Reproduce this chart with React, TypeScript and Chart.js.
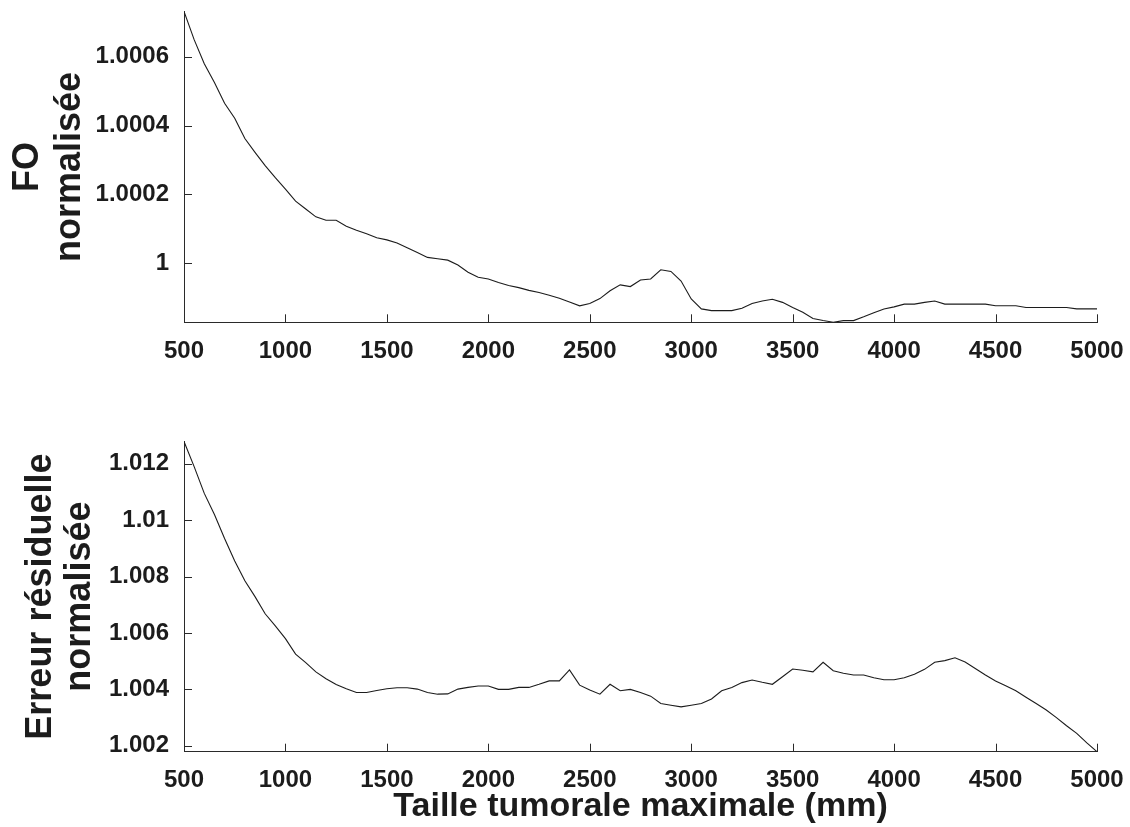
import React, { useEffect, useRef } from 'react';
import { Chart, registerables } from 'chart.js';

Chart.register(...registerables);

// ---------- data ----------
const xValues = [
  500, 550, 600, 650, 700, 750, 800, 850, 900, 950,
  1000, 1050, 1100, 1150, 1200, 1250, 1300, 1350, 1400, 1450,
  1500, 1550, 1600, 1650, 1700, 1750, 1800, 1850, 1900, 1950,
  2000, 2050, 2100, 2150, 2200, 2250, 2300, 2350, 2400, 2450,
  2500, 2550, 2600, 2650, 2700, 2750, 2800, 2850, 2900, 2950,
  3000, 3050, 3100, 3150, 3200, 3250, 3300, 3350, 3400, 3450,
  3500, 3550, 3600, 3650, 3700, 3750, 3800, 3850, 3900, 3950,
  4000, 4050, 4100, 4150, 4200, 4250, 4300, 4350, 4400, 4450,
  4500, 4550, 4600, 4650, 4700, 4750, 4800, 4850, 4900, 4950,
  5000,
];

const foValues = [
  1.000732, 1.00065, 1.00058, 1.000525, 1.000465, 1.000421, 1.000362, 1.000322, 1.000283, 1.000248,
  1.000215, 1.00018, 1.000157, 1.000134, 1.000124, 1.000124, 1.000107, 1.000095, 1.000085, 1.000073,
  1.000067, 1.000058, 1.000044, 1.00003, 1.000016, 1.000012, 1.000008, 0.999994, 0.999973, 0.999958,
  0.999953, 0.999943, 0.999934, 0.999928, 0.99992, 0.999914, 0.999906, 0.999897, 0.999886, 0.999875,
  0.999882, 0.999896, 0.999919, 0.999936, 0.999931, 0.99995, 0.999953, 0.99998, 0.999975, 0.999947,
  0.999895, 0.999866, 0.999861, 0.999861, 0.999861, 0.999868, 0.999882, 0.999889, 0.999894, 0.999885,
  0.99987, 0.999856, 0.999838, 0.999832, 0.999827, 0.999832, 0.999832, 0.999843, 0.999855, 0.999866,
  0.999872, 0.99988, 0.99988, 0.999885, 0.999889, 0.99988, 0.99988, 0.99988, 0.99988, 0.99988,
  0.999875, 0.999875, 0.999875, 0.99987, 0.99987, 0.99987, 0.99987, 0.99987, 0.999866, 0.999866,
  0.999866,
];

const errValues = [
  1.01279, 1.0119, 1.01095, 1.0102, 1.00935, 1.00855, 1.00785, 1.00729, 1.00668, 1.00625,
  1.0058, 1.00525, 1.00495, 1.00462, 1.00438, 1.00417, 1.00402, 1.00389, 1.00389, 1.00396,
  1.00402, 1.00406, 1.00406, 1.00401, 1.00389, 1.00383, 1.00384, 1.00401, 1.00407, 1.00412,
  1.00412, 1.004, 1.004, 1.00407, 1.00407, 1.00418, 1.0043, 1.0043, 1.00469, 1.00415,
  1.00398, 1.00383, 1.00418, 1.00395, 1.004, 1.00389, 1.00376, 1.0035, 1.00344, 1.00338,
  1.00344, 1.0035, 1.00366, 1.00395, 1.00407, 1.00424, 1.00433, 1.00425, 1.00418, 1.00445,
  1.00472, 1.00468, 1.00462, 1.00496, 1.00466, 1.00457, 1.00451, 1.00451, 1.00441, 1.00434,
  1.00434, 1.00441, 1.00454, 1.00471, 1.00496, 1.00502, 1.00512, 1.00497, 1.00474, 1.00451,
  1.0043, 1.00413, 1.00395, 1.00372, 1.0035, 1.00327, 1.003, 1.00271, 1.00244, 1.0021,
  1.00179,
];

const xTicks = [500, 1000, 1500, 2000, 2500, 3000, 3500, 4000, 4500, 5000];
const xTickLabels = ['500', '1000', '1500', '2000', '2500', '3000', '3500', '4000', '4500', '5000'];
const foTicks = [1, 1.0002, 1.0004, 1.0006];
const foTickLabels = ['1', '1.0002', '1.0004', '1.0006'];
const errTicks = [1.002, 1.004, 1.006, 1.008, 1.01, 1.012];
const errTickLabels = ['1.002', '1.004', '1.006', '1.008', '1.01', '1.012'];
const foTitle = ['FO', 'normalisée'];
const errTitle = ['Erreur résiduelle', 'normalisée'];
const xTitle = 'Taille tumorale maximale (mm)';

// ---------- styles ----------
const FONT = "'Liberation Sans', Arial, Helvetica, sans-serif";
const INK = '#1c1c1c';
const AXIS = '#2a2a2a';
const W = 1130;
const PLOT_LEFT = 184;
const PLOT_RIGHT = 1097;

Chart.defaults.font.family = FONT;

const inwardTicks = {
  id: 'inwardTicks',
  afterDraw(chart: any) {
    const { ctx, chartArea, scales } = chart;
    const len = 8;
    ctx.save();
    ctx.strokeStyle = AXIS;
    ctx.lineWidth = 1;
    scales.x.ticks.forEach((t: any) => {
      const px = Math.round(scales.x.getPixelForValue(t.value)) + 0.5;
      ctx.beginPath();
      ctx.moveTo(px, chartArea.bottom);
      ctx.lineTo(px, chartArea.bottom - len);
      ctx.stroke();
    });
    scales.y.ticks.forEach((t: any) => {
      const py = Math.round(scales.y.getPixelForValue(t.value)) + 0.5;
      ctx.beginPath();
      ctx.moveTo(chartArea.left, py);
      ctx.lineTo(chartArea.left + len, py);
      ctx.stroke();
    });
    ctx.restore();
  },
};

type PanelProps = {
  top: number;
  height: number;
  plotTop: number;
  plotBottom: number;
  values: number[];
  yTicks: number[];
  yTickLabels: string[];
  yTitle: string[];
  yTitlePad: number;
  yTitleLH: number;
  xLabelPad: number;
  showXTitle: boolean;
};

function Panel(p: PanelProps) {
  const ref = useRef<HTMLCanvasElement | null>(null);

  useEffect(() => {
    if (!ref.current) return;
    const points = xValues.map((x, i) => ({ x, y: p.values[i] }));
    const yMin = Math.min(...p.values);
    const yMax = Math.max(...p.values);
    const xAxisHeight = p.height - p.plotBottom;

    const chart = new Chart(ref.current, {
      type: 'line',
      data: {
        datasets: [
          {
            data: points,
            borderColor: INK,
            borderWidth: 1.1,
            pointRadius: 0,
            tension: 0,
            fill: false,
          },
        ],
      },
      options: {
        responsive: false,
        animation: false,
        devicePixelRatio: 1,
        layout: { padding: { top: p.plotTop, right: W - PLOT_RIGHT, bottom: 0, left: 0 } },
        plugins: { legend: { display: false }, tooltip: { enabled: false } },
        scales: {
          x: {
            type: 'linear',
            min: 500,
            max: 5000,
            grid: { display: false },
            border: { display: true, color: AXIS, width: 1 },
            afterBuildTicks: (s: any) => {
              s.ticks = xTicks.map((v) => ({ value: v }));
            },
            afterFit: (s: any) => {
              s.height = xAxisHeight;
              s.paddingLeft = 0;
              s.paddingRight = 0;
            },
            ticks: {
              autoSkip: false,
              maxRotation: 0,
              padding: p.xLabelPad,
              color: INK,
              font: { size: 24, weight: 'bold', family: FONT },
              callback: (_v: any, i: number) => xTickLabels[i],
            },
            title: {
              display: p.showXTitle,
              text: xTitle,
              color: INK,
              font: { size: 34, weight: 'bold', family: FONT, lineHeight: 1 },
              padding: { top: 0, bottom: 3.8 },
            },
          },
          y: {
            type: 'linear',
            min: yMin,
            max: yMax,
            grid: { display: false },
            border: { display: true, color: AXIS, width: 1 },
            afterBuildTicks: (s: any) => {
              s.ticks = p.yTicks.map((v) => ({ value: v }));
            },
            afterFit: (s: any) => {
              s.width = PLOT_LEFT;
              s.paddingTop = 0;
              s.paddingBottom = 0;
            },
            ticks: {
              autoSkip: false,
              padding: 7,
              color: INK,
              font: { size: 24, weight: 'bold', family: FONT },
              callback: (_v: any, i: number) => p.yTickLabels[i],
            },
            title: {
              display: true,
              text: p.yTitle,
              color: INK,
              font: { size: 36, weight: 'bold', family: FONT, lineHeight: p.yTitleLH },
              padding: { top: p.yTitlePad, bottom: 0 },
            },
          },
        },
      } as any,
      plugins: [inwardTicks],
    });
    return () => chart.destroy();
  }, []);

  return (
    <div style={{ position: 'absolute', left: 0, top: p.top, width: W, height: p.height }}>
      <canvas ref={ref} width={W} height={p.height} style={{ display: 'block' }} />
    </div>
  );
}

export default function App() {
  return (
    <div style={{ position: 'absolute', left: 0, top: 0, width: W, height: 827, background: '#fff', overflow: 'hidden' }}>
      <Panel
        top={0}
        height={390}
        plotTop={11.5}
        plotBottom={322.3}
        values={foValues}
        yTicks={foTicks}
        yTickLabels={foTickLabels}
        yTitle={foTitle}
        yTitlePad={7.5}
        yTitleLH={1.16}
        xLabelPad={7}
        showXTitle={false}
      />
      <Panel
        top={390}
        height={437}
        plotTop={51.5}
        plotBottom={361.7}
        values={errValues}
        yTicks={errTicks}
        yTickLabels={errTickLabels}
        yTitle={errTitle}
        yTitlePad={22}
        yTitleLH={1.08}
        xLabelPad={6}
        showXTitle={true}
      />
    </div>
  );
}
